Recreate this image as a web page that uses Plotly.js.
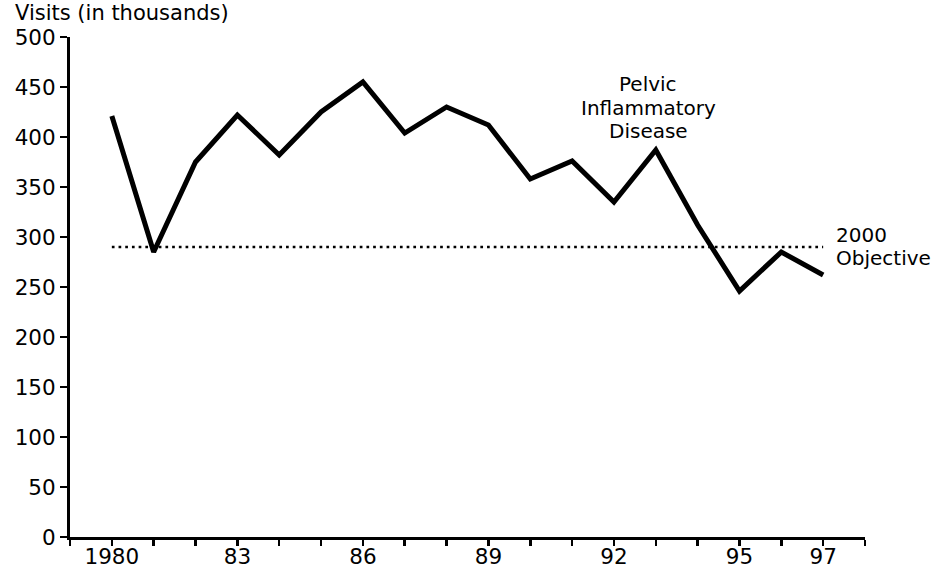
<!DOCTYPE html>
<html>
<head>
<meta charset="utf-8">
<script src="https://cdn.plot.ly/plotly-3.0.1.min.js"></script>
<style>
  html, body { margin: 0; padding: 0; background: #fff; }
  #chart { width: 941px; height: 573px; }
</style>
</head>
<body>
<div id="chart"></div>
<script>
// ---- data ----
const years = [1980, 1981, 1982, 1983, 1984, 1985, 1986, 1987, 1988, 1989,
               1990, 1991, 1992, 1993, 1994, 1995, 1996, 1997];
const visits = [421, 285, 375, 422, 382, 425, 455, 404, 430, 412,
                358, 376, 335, 387, 312, 246, 285, 262];
const objectiveYears = [1980, 1997];
const objectiveValue = [290, 290];

const tickYears = [1979, 1980, 1981, 1982, 1983, 1984, 1985, 1986, 1987, 1988,
                   1989, 1990, 1991, 1992, 1993, 1994, 1995, 1996, 1997, 1998];
const tickLabels = ['', '1980', '', '', '83', '', '', '86', '', '',
                    '89', '', '', '92', '', '', '95', '', '97', ''];

const yTitle = 'Visits (in thousands)';
const seriesLabel = ['Pelvic', 'Inflammatory', 'Disease'];
const objectiveLabel = ['2000', 'Objective'];

const FONT = 'DejaVu Sans, Liberation Sans, Arial, sans-serif';

const traces = [
  {
    x: objectiveYears, y: objectiveValue, mode: 'lines',
    line: { color: '#000', width: 2.7, dash: '2.7px,4px' },
    hoverinfo: 'skip', showlegend: false
  },
  {
    x: years, y: visits, mode: 'lines',
    line: { color: '#000', width: 5 },
    showlegend: false
  }
];

const annFont = { family: FONT, size: 20, color: '#000' };
const annotations = [
  { text: seriesLabel[0], x: 1992.82, y: 453, xref: 'x', yref: 'y',
    xanchor: 'center', yanchor: 'middle', showarrow: false, font: annFont },
  { text: seriesLabel[1], x: 1992.82, y: 429.5, xref: 'x', yref: 'y',
    xanchor: 'center', yanchor: 'middle', showarrow: false, font: annFont },
  { text: seriesLabel[2], x: 1992.82, y: 406, xref: 'x', yref: 'y',
    xanchor: 'center', yanchor: 'middle', showarrow: false, font: annFont },
  { text: objectiveLabel[0], x: 1997.26, y: 302.5, xref: 'x', yref: 'y',
    xanchor: 'left', yanchor: 'middle', showarrow: false, font: annFont },
  { text: objectiveLabel[1], x: 1997.26, y: 279, xref: 'x', yref: 'y',
    xanchor: 'left', yanchor: 'middle', showarrow: false, font: annFont },
  { text: yTitle, x: -0.072, y: 1.049, xref: 'paper', yref: 'paper',
    xanchor: 'left', yanchor: 'middle', showarrow: false,
    font: { family: FONT, size: 21, color: '#000' } }
];

const layout = {
  width: 941, height: 573,
  margin: { l: 70, r: 76, t: 37, b: 36, pad: 0 },
  paper_bgcolor: '#fff', plot_bgcolor: '#fff',
  font: { family: FONT, size: 21.5, color: '#000' },
  showlegend: false,
  xaxis: {
    range: [1979, 1998],
    tickvals: tickYears, ticktext: tickLabels,
    ticks: 'outside', ticklen: 6, tickwidth: 2.5, tickcolor: '#000',
    ticklabelstandoff: -8,
    showline: true, linewidth: 3, linecolor: '#000',
    showgrid: false, zeroline: false, fixedrange: true,
    tickfont: { family: FONT, size: 21.5, color: '#000' }
  },
  yaxis: {
    range: [0, 500], tick0: 0, dtick: 50,
    ticks: 'outside', ticklen: 7, tickwidth: 2.5, tickcolor: '#000',
    showline: true, linewidth: 3, linecolor: '#000',
    showgrid: false, zeroline: false, fixedrange: true,
    tickfont: { family: FONT, size: 21.5, color: '#000' }
  },
  annotations: annotations
};

Plotly.newPlot('chart', traces, layout, { displayModeBar: false, staticPlot: true });
</script>
</body>
</html>
